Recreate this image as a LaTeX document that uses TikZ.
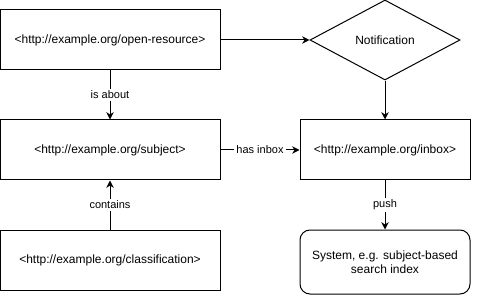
\documentclass[tikz,border=0pt]{standalone}
\usepackage{fontspec}
\setmainfont{Liberation Sans}
\usetikzlibrary{arrows.meta,shapes.geometric}

\begin{document}
\begin{tikzpicture}[x=0.75pt,y=-0.75pt,>={Stealth[length=5.5pt,width=5.5pt]},
  font=\fontsize{9}{10.5}\selectfont,line width=0.75pt,
  res/.style={draw,inner sep=0pt,minimum width=165pt,minimum height=45pt},
  tgt/.style={draw,inner sep=0pt,minimum width=127.5pt,minimum height=45pt},
  sys/.style={tgt,rounded corners=7.5pt,minimum height=48pt,align=center},
  msg/.style={draw,diamond,inner sep=0pt,minimum width=112.5pt,minimum height=60pt},
  lbl/.style={fill=white,inner sep=1.5pt,font=\fontsize{8.25}{9.75}\selectfont}]
\useasboundingbox (0,0) rectangle (479,296);
\node[res] (OR) at (110,40) {<http://example.org/open-resource>};
\node[res] (SUB) at (110,150) {<http://example.org/subject>};
\node[res] (CLS) at (110,260) {<http://example.org/classification>};
\node[msg] (NOTE) at (385,40) {Notification};
\node[tgt] (INB) at (385,150) {<http://example.org/inbox>};
\node[sys] (SYS) at (385,262) {System, e.g. subject-based\\ search index};
\draw[->] (OR) -- (NOTE);
\draw[->] (NOTE) -- (INB);
\draw[->] (OR) -- node[lbl]{is about} (SUB);
\draw[->] (CLS) -- node[lbl]{contains} (SUB);
\draw[->] (SUB) -- node[lbl]{has inbox} (INB);
\draw[->] (INB) -- node[lbl]{push} (SYS);
\end{tikzpicture}
\end{document}
